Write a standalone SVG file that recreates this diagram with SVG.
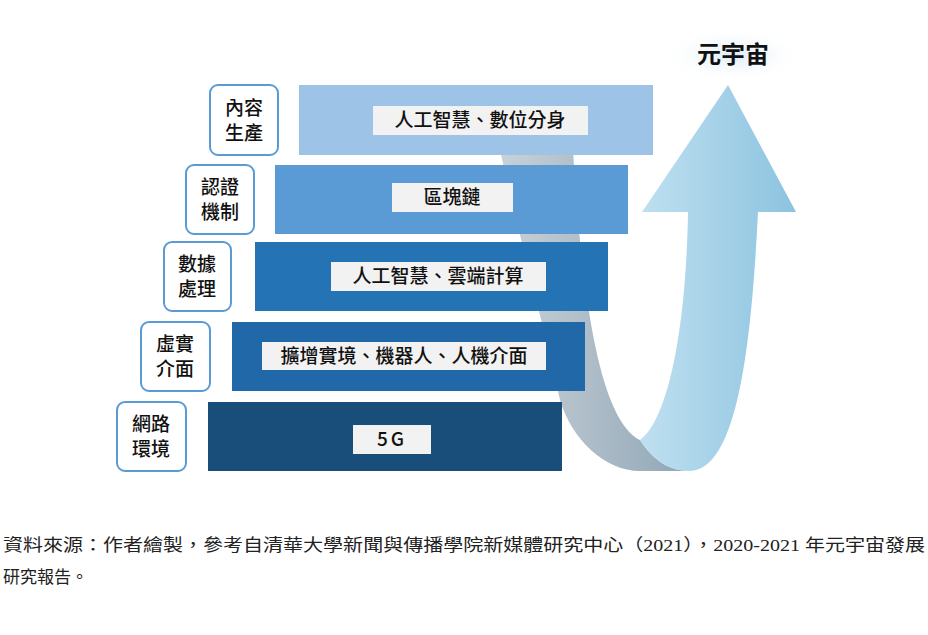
<svg xmlns="http://www.w3.org/2000/svg" width="928" height="635" viewBox="0 0 928 635">
<defs>
<linearGradient id="gr" x1="0" y1="0" x2="1" y2="0"><stop offset="0" stop-color="#c9d1d8"/><stop offset="1" stop-color="#8fa6b6"/></linearGradient>
<linearGradient id="bl" x1="0" y1="0" x2="1" y2="0"><stop offset="0" stop-color="#bfe0f0"/><stop offset="1" stop-color="#8cc3e0"/></linearGradient>
<radialGradient id="glow"><stop offset="0" stop-color="#dbeaf6"/><stop offset="1" stop-color="#ffffff" stop-opacity="0"/></radialGradient>
<style>
.side{fill:#fff;stroke:#5b9bd5;stroke-width:2}
.st{font-family:"Noto Sans CJK TC","Noto Sans CJK SC",sans-serif;font-size:19px;font-weight:500;fill:#111;text-anchor:middle}
.lb{fill:#f2f2f2}
.lt{font-family:"Noto Sans CJK TC","Noto Sans CJK SC",sans-serif;font-size:19px;font-weight:500;fill:#111;text-anchor:middle}
.cap{font-family:"Liberation Serif","Noto Sans CJK TC",serif;font-size:17px;fill:#222}
</style>
</defs>
<ellipse cx="733" cy="55" rx="70" ry="28" fill="url(#glow)"/>
<text x="733" y="63" font-family="Noto Sans CJK TC,sans-serif" font-size="24" font-weight="bold" text-anchor="middle" fill="#111">元宇宙</text>
<g id="connectors">
<path d="M500,150 L573,150 C582,300 600,420 640,440 C650,455 665,471 690,471 L640,471 C605,471 572,440 560,400 C545,330 520,240 500,150 Z" fill="url(#gr)"/>
<path d="M728,85 L796,212 L758,212 C752,330 740,470 690,471 C665,471 650,455 640,440 C668,420 686,330 688,212 L642,212 Z" fill="url(#bl)"/>
</g>
<g id="n1"><rect x="299" y="85" width="354" height="70" fill="#9dc3e6"/><rect class="lb" x="373" y="106" width="215" height="29"/><text class="lt" x="480" y="127">人工智慧、數位分身</text>
<rect class="side" x="210" y="85" width="68" height="70" rx="8"/><text class="st" x="244" y="115">內容</text><text class="st" x="244" y="140">生產</text></g>
<g id="n2"><rect x="275" y="165" width="353" height="69" fill="#5b9bd5"/><rect class="lb" x="392" y="183" width="121" height="29"/><text class="lt" x="452" y="204">區塊鏈</text>
<rect class="side" x="186" y="165" width="68" height="69" rx="8"/><text class="st" x="220" y="194">認證</text><text class="st" x="220" y="219">機制</text></g>
<g id="n3"><rect x="255" y="242" width="353" height="69" fill="#2474b5"/><rect class="lb" x="331" y="262" width="215" height="29"/><text class="lt" x="438" y="283">人工智慧、雲端計算</text>
<rect class="side" x="164" y="242" width="67" height="69" rx="8"/><text class="st" x="197" y="271">數據</text><text class="st" x="197" y="296">處理</text></g>
<g id="n4"><rect x="232" y="322" width="353" height="69" fill="#2168a8"/><rect class="lb" x="262" y="342" width="284" height="28"/><text class="lt" x="404" y="363">擴增實境、機器人、人機介面</text>
<rect class="side" x="141" y="322" width="69" height="69" rx="8"/><text class="st" x="175" y="351">虛實</text><text class="st" x="175" y="376">介面</text></g>
<g id="n5"><rect x="208" y="402" width="354" height="69" fill="#1a4e7a"/><rect class="lb" x="353" y="425" width="78" height="29"/><text class="lt" x="392" y="446" letter-spacing="3">5G</text>
<rect class="side" x="117" y="402" width="69" height="69" rx="8"/><text class="st" x="151" y="431">網路</text><text class="st" x="151" y="456">環境</text></g>
<text class="cap" x="3" y="551" textLength="922" lengthAdjust="spacingAndGlyphs">資料來源：作者繪製，參考自清華大學新聞與傳播學院新媒體研究中心（2021），2020-2021 年元宇宙發展</text>
<text class="cap" x="3" y="583">研究報告。</text>
</svg>
